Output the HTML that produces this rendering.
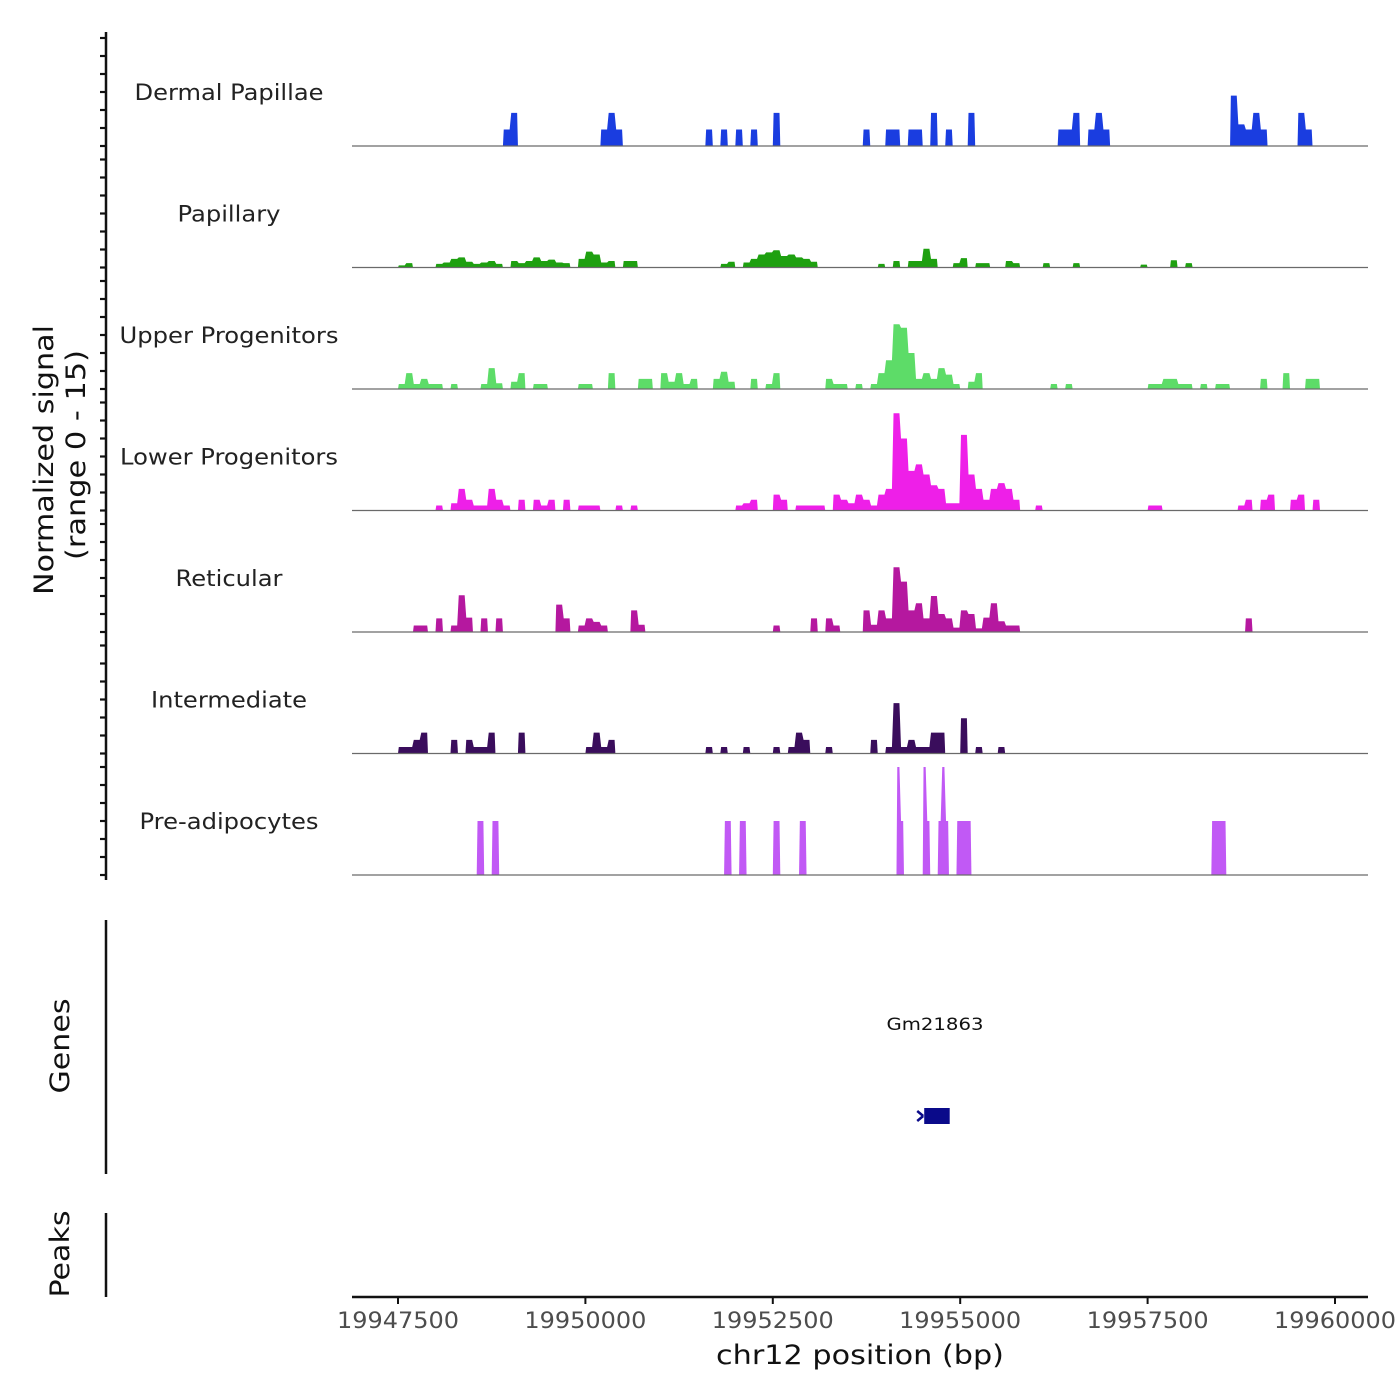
<!DOCTYPE html>
<html><head><meta charset="utf-8"><style>
html,body{margin:0;padding:0;background:#fff;}
svg{display:block;font-family:"DejaVu Sans","Liberation Sans",sans-serif;}
</style></head><body>
<svg id="chart" width="1400" height="1400" viewBox="0 0 1400 1400">
<g id="tracks"></g>
<g id="axes"></g>
</svg>
<script>
// ---- data ----
const trackNames = ["Dermal Papillae","Papillary","Upper Progenitors","Lower Progenitors","Reticular","Intermediate","Pre-adipocytes"];
const trackColors = ["#1a3de0","#1ea010","#5ddc68","#ee1fe8","#b5189f","#3a0d5c","#c159f5"];
const binWidths = [100,100,100,100,100,100,50];
const regionStart = 19946900;
const xTicks = [19947500,19950000,19952500,19955000,19957500,19960000];
const xTickLabels = ["19947500","19950000","19952500","19955000","19957500","19960000"];
const yRange = [0,15];
const yTicks = [0,2.5,5,7.5,10,12.5,15];

const dpBins = [20,21,33,34,35,47,49,51,53,56,68,71,72,74,75,77,79,82,94,95,96,98,99,100,117,118,119,120,121,126,127];
const dpVals = [2.3,4.6,2.3,4.6,2.3,2.3,2.3,2.3,2.3,4.6,2.3,2.3,2.3,2.3,2.3,4.6,2.3,4.6,2.3,2.3,4.6,2.3,4.6,2.3,7,3,2.3,4.6,2.3,4.6,2.3];

const papBins = [6,7,11,12,13,14,15,16,17,18,19,21,22,23,24,25,26,27,28,30,31,32,33,34,36,37,49,50,52,53,54,55,56,57,58,59,60,61,70,72,74,75,76,77,80,81,83,84,87,88,92,96,105,109,111];
const papVals = [0.3,0.6,0.5,0.7,1.2,1.4,0.8,0.5,0.7,0.9,0.5,0.9,0.6,0.9,1.4,0.9,1.1,0.7,0.6,1.2,2.2,1.8,0.7,0.9,0.9,0.9,0.5,0.8,0.7,1.2,1.8,2.1,2.4,1.6,1.8,1.4,1.2,0.8,0.5,0.9,0.9,0.9,2.6,1.2,0.6,1.3,0.6,0.6,0.9,0.6,0.6,0.6,0.4,1.0,0.6];

const upBins = [6,7,8,9,10,11,13,17,18,19,21,22,24,25,30,31,34,38,39,41,42,43,44,45,48,49,50,53,55,56,63,64,65,67,69,70,71,72,73,74,75,76,77,78,79,80,82,83,93,95,106,107,108,109,110,111,113,115,116,121,124,127,128];
const upVals = [0.7,2.2,0.7,1.4,0.7,0.7,0.7,0.7,2.9,0.8,1.0,2.2,0.7,0.7,0.7,0.7,2.2,1.4,1.4,2.2,1.0,2.2,0.7,1.4,1.4,2.4,1.0,1.4,0.7,2.2,1.4,0.7,0.7,0.7,0.7,2.2,4,9,8.5,5,1.4,2.2,1.4,2.9,2.0,0.7,1.0,2.2,0.7,0.7,0.7,0.7,1.4,1.4,0.7,0.7,0.7,0.7,0.7,1.4,2.2,1.4,1.4];

const lpBins = [11,13,14,15,16,17,18,19,20,22,24,25,26,28,30,31,32,35,37,51,52,53,56,57,59,60,61,62,64,65,66,67,68,69,70,71,72,73,74,75,76,77,78,79,80,81,82,83,84,85,86,87,88,91,106,107,118,119,121,122,125,126,128];
const lpVals = [0.7,1.0,3.0,1.5,0.7,0.7,3.0,1.5,0.7,1.5,1.5,0.7,1.5,1.5,0.7,0.7,0.7,0.7,0.7,0.7,1.0,1.5,2.2,1.5,0.7,0.7,0.7,0.7,2.2,1.5,1.0,2.2,1.5,0.7,2.2,3.0,13.5,10,5.5,6.4,5,3.5,3.0,1.0,1.0,10.5,5,3,1.5,3.0,3.8,3.0,1.5,0.7,0.7,0.7,0.7,1.5,1.5,2.2,1.5,2.2,1.5];

const retBins = [8,9,11,13,14,15,17,19,27,28,30,31,32,33,37,38,56,61,63,64,68,69,70,71,72,73,74,75,76,77,78,79,80,81,82,83,84,85,86,87,88,119];
const retVals = [0.9,0.9,1.9,0.9,5.1,2.0,1.9,1.9,3.8,1.9,0.9,1.9,1.4,0.9,3.0,1.0,0.9,1.9,1.9,0.9,3.0,1.0,3.0,1.9,9.0,7,3.0,4.0,1.9,5.0,2.5,1.9,0.6,3.0,2.5,0.5,2.0,4.0,1.5,0.9,0.9,1.9];

const intBins = [6,7,8,9,13,15,16,17,18,22,31,32,33,34,47,49,52,56,58,59,60,63,69,71,72,73,74,75,76,77,78,81,83,86];
const intVals = [0.9,0.9,1.9,2.9,1.9,1.9,0.9,0.9,2.9,2.9,0.9,2.9,0.9,1.9,0.9,0.9,0.9,0.9,0.9,2.9,1.9,0.9,1.9,0.9,7.0,0.9,1.9,0.9,0.9,2.9,2.9,4.9,0.9,0.9];

const preBins = [33,34,37,38,99,100,103,104,112,113,119,120,145,146,152,153,156,157,158,161,162,163,164,229,230,231,232];
const preVals = [7.5,7.5,7.5,7.5,7.5,7.5,7.5,7.5,7.5,7.5,7.5,7.5,15,7.5,15,7.5,7.5,15,7.5,7.5,7.5,7.5,7.5,7.5,7.5,7.5,7.5];

const trackBins = [dpBins,papBins,upBins,lpBins,retBins,intBins,preBins];
const trackVals = [dpVals,papVals,upVals,lpVals,retVals,intVals,preVals];

const geneName = "Gm21863";
const geneStart = 19954520, geneEnd = 19954860;

// ---- scales ----
const X0 = 352, X1 = 1368;
function xScale(bp){ return 398 + (bp - 19947500) * (937/12500); }
const trackTop = 24.5, trackH = 121.5;
function baseline(k){ return trackTop + trackH*(k+1); }
function yScale(v,k){ return baseline(k) - (v - yRange[0]) / (yRange[1]-yRange[0]) * 108; }

const NS = "http://www.w3.org/2000/svg";
function mk(tag, attrs, parent){ const e=document.createElementNS(NS,tag); for(const a in attrs) e.setAttribute(a,attrs[a]); parent.appendChild(e); return e; }
const gT = document.getElementById('tracks');
const gA = document.getElementById('axes');
const labelWidths = [189,103,219,218,107,156,179];

// ---- tracks ----
for(let k=0;k<trackNames.length;k++){
  const g = mk('g',{},gT);
  
  
  const bins = trackBins[k].map((b,i)=>[b,trackVals[k][i]]).sort((a,b)=>a[0]-b[0]);
  const bw = binWidths[k];
  let runs=[], cur=null;
  for(const [b,v] of bins){
    if(cur && b===cur[cur.length-1][0]+1) cur.push([b,v]); else { cur=[[b,v]]; runs.push(cur); }
  }
  for(const run of runs){
    const b0 = baseline(k);
    let pts = [];
    pts.push([xScale(regionStart+run[0][0]*bw), b0]);
    for(const [b,v] of run){
      const xl = xScale(regionStart+b*bw), xr = xScale(regionStart+(b+1)*bw);
      const y = yScale(v,k);
      pts.push([xl+0.8,y]); pts.push([xr-0.8,y]);
    }
    pts.push([xScale(regionStart+(run[run.length-1][0]+1)*bw), b0]);
    const p = mk('polygon',{points:pts.map(p=>p[0].toFixed(2)+','+p[1].toFixed(2)).join(' '),fill:trackColors[k]},g);
    
    
  }
  const bl = mk('line',{x1:X0,x2:X1,y1:baseline(k),y2:baseline(k),stroke:'#6a6a6a','stroke-width':1.2},g);
  
  
  const lab = mk('text',{x:229,y:baseline(k)-46,'font-size':22,'text-anchor':'middle',fill:'#222',textLength:labelWidths[k],lengthAdjust:'spacingAndGlyphs'},g);
  lab.textContent = trackNames[k];
  
  
  for(const t of yTicks){
    const tk = mk('line',{x1:100,x2:106,y1:yScale(t,k),y2:yScale(t,k),stroke:'#111','stroke-width':2.2},gA);
    
    
  }
}

// ---- y axis ----
let e = mk('line',{x1:106,x2:106,y1:32,y2:880,stroke:'#111','stroke-width':2.5},gA);


e = mk('text',{x:0,y:0,'font-size':27,'text-anchor':'middle',fill:'#111',transform:'translate(53,460) rotate(-90)',textLength:270,lengthAdjust:'spacingAndGlyphs'},gA);
e.textContent = 'Normalized signal';


e = mk('text',{x:0,y:0,'font-size':27,'text-anchor':'middle',fill:'#111',transform:'translate(85,455) rotate(-90)',textLength:210,lengthAdjust:'spacingAndGlyphs'},gA);
e.textContent = '(range 0 - 15)';



// ---- genes panel ----
e = mk('line',{x1:106,x2:106,y1:920,y2:1174,stroke:'#111','stroke-width':2.5},gA);


e = mk('text',{x:0,y:0,'font-size':27,'text-anchor':'middle',fill:'#111',transform:'translate(69,1046) rotate(-90)',textLength:95,lengthAdjust:'spacingAndGlyphs'},gA);
e.textContent = 'Genes';


e = mk('text',{x:935,y:1030,'font-size':17,'text-anchor':'middle',fill:'#111',textLength:97,lengthAdjust:'spacingAndGlyphs'},gA);
e.textContent = geneName;


e = mk('rect',{x:xScale(geneStart),y:1108,width:xScale(geneEnd)-xScale(geneStart),height:16,fill:'#0a0a8a'},gA);


e = mk('path',{d:`M${xScale(geneStart)-1},1116 l-6,-5 M${xScale(geneStart)-1},1116 l-6,5`,stroke:'#0a0a8a','stroke-width':2.5,fill:'none'},gA);



// ---- peaks panel ----
e = mk('line',{x1:106,x2:106,y1:1213,y2:1297,stroke:'#111','stroke-width':2.5},gA);


e = mk('text',{x:0,y:0,'font-size':27,'text-anchor':'middle',fill:'#111',transform:'translate(69,1254) rotate(-90)',textLength:87,lengthAdjust:'spacingAndGlyphs'},gA);
e.textContent = 'Peaks';



// ---- x axis ----
e = mk('line',{x1:X0,x2:X1,y1:1297,y2:1297,stroke:'#111','stroke-width':2.5},gA);


xTicks.forEach((t,i)=>{
  const tk = mk('line',{x1:xScale(t),x2:xScale(t),y1:1297,y2:1304,stroke:'#111','stroke-width':2},gA);
  
  
  const tl = mk('text',{x:xScale(t),y:1328,'font-size':22,'text-anchor':'middle',fill:'#4d4d4d',textLength:122,lengthAdjust:'spacingAndGlyphs'},gA);
  tl.textContent = xTickLabels[i];
  
  
});
e = mk('text',{x:860,y:1364,'font-size':27,'text-anchor':'middle',fill:'#111',textLength:288,lengthAdjust:'spacingAndGlyphs'},gA);
e.textContent = 'chr12 position (bp)';


</script>
</body></html>
